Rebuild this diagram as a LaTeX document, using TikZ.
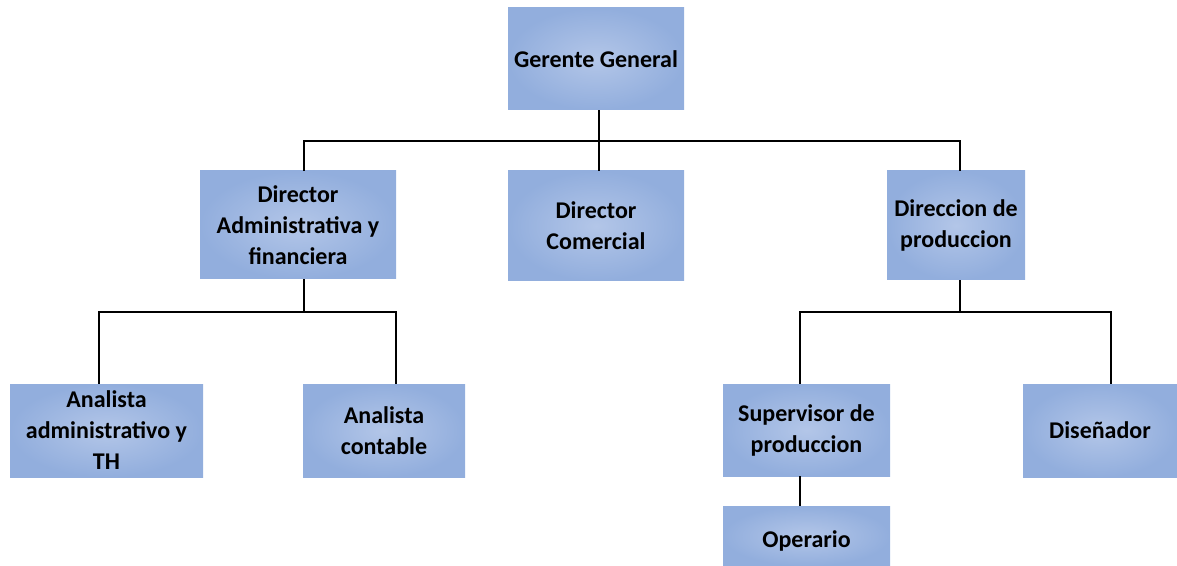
\documentclass[tikz,border=0pt]{standalone}
\usepackage{fontspec}
\setmainfont{Carlito}
\begin{document}
\begin{tikzpicture}[x=0.75pt,y=-0.75pt,
  box/.style={shading=radial, inner color=boxin, outer color=boxout, draw=none,
    align=center, inner sep=0pt, font=\bfseries\fontsize{18}{23.25}\selectfont},
  link/.style={line width=1.6pt, black}]
\definecolor{boxin}{HTML}{B3C6E8}
\definecolor{boxout}{HTML}{92AEDD}
\useasboundingbox (0,0) rectangle (1177,566);
\node[box, minimum width=132pt, minimum height=76.5pt] (gg) at (596,59) {Gerente General};
\node[box, minimum width=147pt, minimum height=81pt] (da) at (298,225) {Director\\Administrativa y\\financiera};
\node[box, minimum width=132pt, minimum height=82.5pt] (dc) at (596,226) {Director\\Comercial};
\node[box, minimum width=103.5pt, minimum height=81.75pt] (dp) at (956,225.5) {Direccion de\\produccion};
\node[box, minimum width=144.75pt, minimum height=69.75pt] (aa) at (106.5,430.5) {Analista\\administrativo y\\TH};
\node[box, minimum width=121.5pt, minimum height=69.75pt] (ac) at (384,430.5) {Analista\\contable};
\node[box, minimum width=125.25pt, minimum height=69pt] (sp) at (806.5,430) {Supervisor de\\produccion};
\node[box, minimum width=115.5pt, minimum height=69.75pt] (di) at (1100,430.5) {Diseñador};
\node[box, minimum width=125.25pt, minimum height=45pt] (op) at (806.5,536) {\raisebox{-4pt}[\height][\depth]{Operario}};
% level 1 connectors
\coordinate (t0) at (599,141);
\coordinate (t1) at (304,141);
\coordinate (t3) at (960,141);
\draw[link] (t0 |- gg.south) -- (t0);
\draw[link] (t1 |- da.north) -- (t1) -- (t3) -- (t3 |- dp.north);
\draw[link] (t0) -- (t0 |- dc.north);
% admin branch
\coordinate (u0) at (304,312);
\coordinate (u1) at (99,312);
\coordinate (u2) at (396,312);
\draw[link] (u0 |- da.south) -- (u0);
\draw[link] (u1 |- aa.north) -- (u1) -- (u2) -- (u2 |- ac.north);
% production branch
\coordinate (v0) at (960,312);
\coordinate (v1) at (800,312);
\coordinate (v2) at (1111,312);
\draw[link] (v0 |- dp.south) -- (v0);
\draw[link] (v1 |- sp.north) -- (v1) -- (v2) -- (v2 |- di.north);
\coordinate (w0) at (800,476);
\draw[link] (w0 |- sp.south) -- (w0 |- op.north);
\end{tikzpicture}
\end{document}
